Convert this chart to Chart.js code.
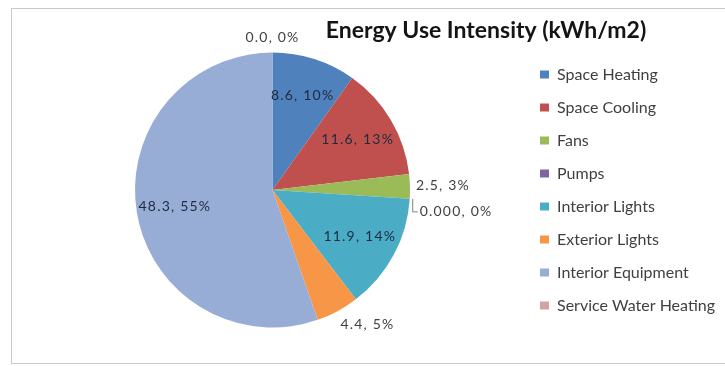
<!DOCTYPE html>
<html>
<head>
<meta charset="utf-8">
<script src="https://cdn.jsdelivr.net/npm/chart.js@4"></script>
<style>
  body { margin: 0; background: #fff; }
  #frame { position: absolute; left: 11px; top: 8px; width: 720px; height: 354px; border: 1px solid #c8c8c8; border-right: none; }
  #wrap { position: absolute; left: 0; top: 0; width: 725px; height: 366px; }
</style>
</head>
<body>
<div id="frame"></div>
<div id="wrap"><canvas id="chart"></canvas></div>
<script>
const categories = ['Space Heating', 'Space Cooling', 'Fans', 'Pumps', 'Interior Lights',
  'Exterior Lights', 'Interior Equipment', 'Service Water Heating'];
const eui = [8.6, 11.6, 2.5, 0.0, 11.9, 4.4, 48.3, 0.0];
const valueDecimals = [1, 1, 1, 3, 1, 1, 1, 1];
const sliceColors = ['#4f81bd', '#c0504d', '#9bbb59', '#8064a2', '#4bacc6',
  '#f79646', '#98add6', '#d3a3a2'];
const chartTitle = 'Energy Use Intensity (kWh/m2)';

// data labels: "value, pct%" inside big slices, outside (with leader if crowded) for small ones
const sliceLabels = {
  id: 'sliceLabels',
  afterDatasetsDraw(chart) {
    const ctx = chart.ctx;
    const arcs = chart.getDatasetMeta(0).data;
    const total = eui.reduce((a, b) => a + b, 0);
    const placed = [];
    ctx.save();
    ctx.font = '14px Lato';
    ctx.letterSpacing = '1.2px';
    ctx.textBaseline = 'middle';
    arcs.forEach((arc, i) => {
      const { x, y, startAngle, endAngle, outerRadius } =
        arc.getProps(['x', 'y', 'startAngle', 'endAngle', 'outerRadius'], true);
      const mid = (startAngle + endAngle) / 2;
      const dx = Math.cos(mid), dy = Math.sin(mid);
      const text = eui[i].toFixed(valueDecimals[i]) + ', ' + Math.round(eui[i] / total * 100) + '%';
      const w = ctx.measureText(text).width;
      const h = 18;
      if (endAngle - startAngle > 0.45) {
        ctx.fillStyle = '#1f2a40';
        ctx.textAlign = 'center';
        ctx.fillText(text, x + dx * outerRadius * 0.72, y + dy * outerRadius * 0.72);
        return;
      }
      let px = x + dx * (outerRadius + 6);
      let ty = y + dy * (outerRadius + 6) + dy * h / 2;
      const align = Math.abs(dx) < 0.15 ? 'center' : (dx > 0 ? 'left' : 'right');
      const x0 = align === 'left' ? px : align === 'right' ? px - w : px - w / 2;
      const box = { x0: x0, x1: x0 + w, y0: ty - h / 2, y1: ty + h / 2 };
      let leader = false;
      placed.forEach((b) => {
        if (box.x0 < b.x1 && box.x1 > b.x0 && box.y0 < b.y1 && box.y1 > b.y0) {
          const shift = b.y1 + 8 - box.y0;
          box.y0 += shift; box.y1 += shift; ty += shift;
          leader = true;
        }
      });
      placed.push(box);
      if (leader) {
        const lx = x + dx * (outerRadius + 3), ly = y + dy * (outerRadius + 3);
        ctx.strokeStyle = '#808080';
        ctx.lineWidth = 1;
        ctx.beginPath();
        ctx.moveTo(lx, ly);
        ctx.lineTo(lx, ty);
        ctx.lineTo(lx + 5, ty);
        ctx.stroke();
        px = lx + 7;
      }
      ctx.fillStyle = '#404040';
      ctx.textAlign = align;
      ctx.fillText(text, px, ty);
    });
    ctx.restore();
  }
};

const titleText = {
  id: 'titleText',
  afterDraw(chart) {
    const ctx = chart.ctx;
    ctx.save();
    ctx.font = 'bold 23px Lato';
    ctx.fillStyle = '#141414';
    ctx.textAlign = 'center';
    ctx.textBaseline = 'middle';
    ctx.fillText(chartTitle, 486, 31);
    ctx.restore();
  }
};

new Chart(document.getElementById('chart'), {
  type: 'pie',
  data: {
    labels: categories,
    datasets: [{
      data: eui,
      backgroundColor: sliceColors,
      borderWidth: 0
    }]
  },
  options: {
    responsive: true,
    maintainAspectRatio: false,
    animation: false,
    radius: 137.5,
    layout: { padding: { left: 22, right: 0, top: 49, bottom: 35 } },
    plugins: {
      legend: {
        position: 'right',
        labels: {
          boxWidth: 9,
          boxHeight: 8,
          padding: 17,
          color: '#3f3f3f',
          font: { family: 'Lato', size: 16 }
        }
      },
      tooltip: { enabled: false },
      title: { display: false }
    }
  },
  plugins: [sliceLabels, titleText]
});
</script>
</body>
</html>
